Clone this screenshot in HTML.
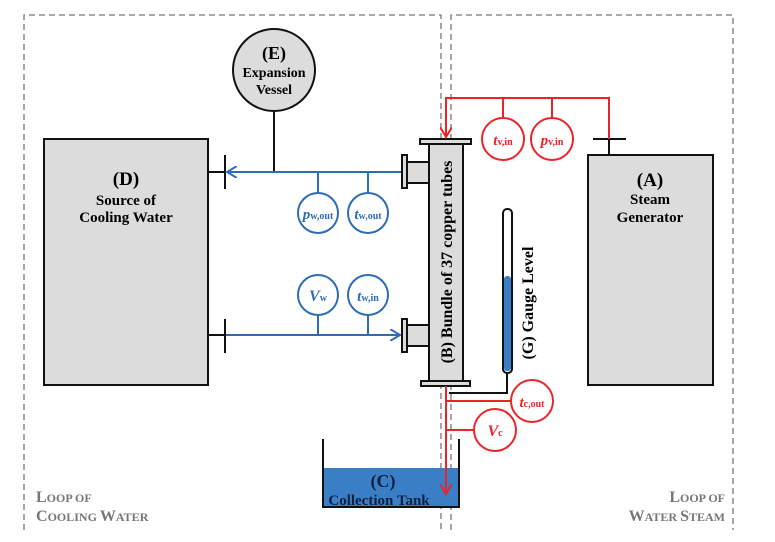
<!DOCTYPE html>
<html><head><meta charset="utf-8"><style>body{margin:0;background:#fff}svg{display:block}</style></head><body>
<svg width="775" height="542" viewBox="0 0 775 542" xmlns="http://www.w3.org/2000/svg" font-family="Liberation Serif, serif" font-weight="bold">
<defs>
<marker id="ab" markerWidth="12" markerHeight="12" refX="10" refY="6" orient="auto" markerUnits="userSpaceOnUse"><path d="M0,0 L10,6 L0,12" fill="none" stroke="#2e6db5" stroke-width="2"/></marker>
<marker id="ar" markerWidth="12" markerHeight="12" refX="10" refY="6" orient="auto" markerUnits="userSpaceOnUse"><path d="M0,0 L10,6 L0,12" fill="none" stroke="#e8262a" stroke-width="2"/></marker>
</defs>
<g stroke="#777" stroke-width="1.3" stroke-dasharray="6,4" fill="none">
<path d="M24,530 V15 H441 V530"/><path d="M451,530 V15 H733 V530"/>
</g>
<rect x="44" y="139" width="164" height="246" fill="#dcdcdc" stroke="#111" stroke-width="2"/>
<text x="126" y="185" font-size="19" text-anchor="middle">(D)</text>
<text x="126" y="205" font-size="15" text-anchor="middle">Source of</text>
<text x="126" y="222" font-size="15" text-anchor="middle">Cooling Water</text>
<rect x="588" y="155" width="125" height="230" fill="#dcdcdc" stroke="#111" stroke-width="2"/>
<text x="650" y="186" font-size="19" text-anchor="middle">(A)</text>
<text x="650" y="204" font-size="15" text-anchor="middle">Steam</text>
<text x="650" y="222" font-size="15" text-anchor="middle">Generator</text>
<line x1="274" y1="111" x2="274" y2="172" stroke="#111" stroke-width="2"/>
<circle cx="274" cy="70" r="41" fill="#dcdcdc" stroke="#111" stroke-width="2"/>
<text x="274" y="59" font-size="18" text-anchor="middle">(E)</text>
<text x="274" y="77" font-size="14" text-anchor="middle">Expansion</text>
<text x="274" y="94" font-size="14" text-anchor="middle">Vessel</text>
<g stroke="#111" stroke-width="2">
<line x1="208" y1="172" x2="225" y2="172"/><line x1="225" y1="155" x2="225" y2="189"/>
<line x1="208" y1="335" x2="225" y2="335"/><line x1="225" y1="319" x2="225" y2="353"/>
<line x1="593" y1="139" x2="626" y2="139"/><line x1="609" y1="139" x2="609" y2="155"/>
<polyline points="449,393 507,393 507,373" fill="none"/>
</g>
<g stroke="#2e6db5" stroke-width="2" fill="none">
<line x1="402" y1="172" x2="227" y2="172" marker-end="url(#ab)"/>
<line x1="226" y1="335" x2="400" y2="335" marker-end="url(#ab)"/>
<line x1="318" y1="172" x2="318" y2="193"/><line x1="368" y1="172" x2="368" y2="193"/>
<line x1="318" y1="315" x2="318" y2="335"/><line x1="368" y1="315" x2="368" y2="335"/>
<circle cx="318" cy="213" r="20" fill="#fff"/><circle cx="368" cy="213" r="20" fill="#fff"/>
<circle cx="318" cy="295" r="20" fill="#fff"/><circle cx="368" cy="295" r="20" fill="#fff"/>
</g>
<g fill="#2e6db5" font-style="italic" text-anchor="middle">
<text x="318" y="219" font-size="15">p<tspan font-size="10" font-style="normal">w,out</tspan></text>
<text x="368" y="219" font-size="15">t<tspan font-size="10" font-style="normal">w,out</tspan></text>
<text x="318" y="301" font-size="16">V<tspan font-size="10" font-style="normal">w</tspan></text>
<text x="368" y="301" font-size="15">t<tspan font-size="10" font-style="normal">w,in</tspan></text>
</g>
<g stroke="#111" stroke-width="2" fill="#dcdcdc">
<path d="M407,162 H431 A6,10 0 0 1 431,183 H407 Z"/><rect x="402" y="155" width="5" height="33"/>
<path d="M407,325 H431 A6,10 0 0 1 431,346 H407 Z"/><rect x="402" y="319" width="5" height="33"/>
<rect x="429" y="143" width="34" height="238"/>
<rect x="420" y="139" width="51" height="5"/><rect x="421" y="381" width="49" height="5"/>
</g>
<text transform="translate(452,262) rotate(-90)" font-size="16" text-anchor="middle">(B) Bundle of 37 copper tubes</text>
<rect x="503" y="209" width="9" height="164" rx="4" fill="#fff" stroke="#111" stroke-width="2"/>
<rect x="504" y="276" width="7" height="95" rx="3" fill="#3a7fc6"/>
<text transform="translate(533,303) rotate(-90)" font-size="16" text-anchor="middle">(G) Gauge Level</text>
<rect x="323" y="468" width="136" height="39" fill="#3a7fc6"/>
<polyline points="323,439 323,507 459,507 459,439" fill="none" stroke="#111" stroke-width="2"/>
<text x="383" y="487" font-size="18" text-anchor="middle" fill="#0d2140">(C)</text>
<text x="379" y="505" font-size="15" text-anchor="middle" fill="#0d2140">Collection Tank</text>
<g stroke="#e8262a" stroke-width="2" fill="none">
<polyline points="609,139 609,98 446,98 446,137" marker-end="url(#ar)"/>
<line x1="446" y1="386" x2="446" y2="494" marker-end="url(#ar)"/>
<line x1="503" y1="98" x2="503" y2="118"/><line x1="552" y1="98" x2="552" y2="118"/>
<line x1="447" y1="401" x2="511" y2="401"/><line x1="447" y1="430" x2="474" y2="430"/>
<circle cx="503" cy="139" r="21" fill="#fff"/><circle cx="552" cy="139" r="21" fill="#fff"/>
<circle cx="532" cy="401" r="21" fill="#fff"/><circle cx="495" cy="430" r="21" fill="#fff"/>
</g>
<g fill="#e8262a" font-style="italic" text-anchor="middle">
<text x="503" y="145" font-size="15">t<tspan font-size="10" font-style="normal">v,in</tspan></text>
<text x="552" y="145" font-size="15">p<tspan font-size="10" font-style="normal">v,in</tspan></text>
<text x="532" y="407" font-size="15">t<tspan font-size="10" font-style="normal">c,out</tspan></text>
<text x="495" y="436" font-size="16">V<tspan font-size="10" font-style="normal">c</tspan></text>
</g>
<g fill="#777" font-size="16">
<text x="36" y="502">L<tspan font-size="12">OOP OF</tspan></text>
<text x="36" y="521">C<tspan font-size="12">OOLING </tspan>W<tspan font-size="12">ATER</tspan></text>
<text x="725" y="502" text-anchor="end">L<tspan font-size="12">OOP OF</tspan></text>
<text x="725" y="521" text-anchor="end">W<tspan font-size="12">ATER </tspan>S<tspan font-size="12">TEAM</tspan></text>
</g>
</svg>
</body></html>
